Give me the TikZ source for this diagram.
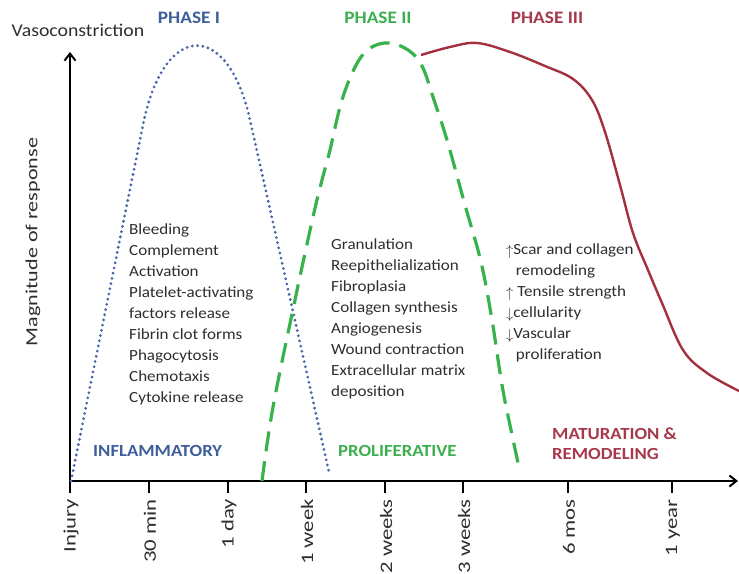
\documentclass[tikz,border=0pt]{standalone}
\usepackage{fontspec}
\setmainfont{Carlito}[FakeStretch=1.1]
\newfontfamily\vertfont{Carlito}[FakeStretch=1.3]
\usetikzlibrary{arrows.meta}
\definecolor{phblue}{HTML}{3E5E9C}
\definecolor{dotblue}{HTML}{4866A8}
\definecolor{phgreen}{HTML}{3CAF4E}
\definecolor{dashgreen}{HTML}{38B24A}
\definecolor{phred}{HTML}{A8384B}
\definecolor{linered}{HTML}{A3303F}
\definecolor{txt}{HTML}{2E2E2E}
\newcommand{\upa}{\raisebox{-0.5pt}{$\uparrow$}}
\newcommand{\dna}{\raisebox{-0.5pt}{$\downarrow$}}
\tikzset{
  axisline/.style={line width=2.2pt, black},
  axisarrow/.style={-{Straight Barb[length=7pt,width=11pt,line width=2pt]}},
  ticklab/.style={rotate=90, anchor=east, inner sep=0pt, text=txt, font=\vertfont\fontsize{17.5}{17.5}\selectfont},
  phasehead/.style={inner sep=0pt, font=\bfseries\fontsize{17.5}{20}\selectfont},
  region/.style={inner sep=0pt, anchor=west, font=\bfseries\fontsize{17}{20}\selectfont},
  listtext/.style={inner sep=0pt, anchor=north west, align=left, text=txt, font=\fontsize{15.5}{21}\selectfont},
  phaseone/.style={dotblue, line width=3.1pt, line cap=round, dash pattern=on 0pt off 5.3pt},
  phasetwo/.style={dashgreen, line width=3.2pt, dash pattern=on 20pt off 10pt},
  phasethree/.style={linered, line width=2.4pt},
}
\begin{document}
\begin{tikzpicture}[x=1pt,y=-1pt]
\useasboundingbox (0,0) rectangle (739,573);
% axes
\coordinate (O) at (70,481);
\coordinate (ybot) at (70,493);
\coordinate (ytop) at (70,52);
\coordinate (xend) at (738,481);
\draw[axisline] (ybot) -- (O);
\draw[axisline, axisarrow] (O) -- (ytop);
\draw[axisline, axisarrow] (O) -- (xend);
% ticks
\foreach \n/\x/\l in {a/70/Injury, b/149/30 min, c/228/1 day, d/306/1 week, e/385/2 weeks, f/463/3 weeks, g/568/6 mos, h/672/1 year}{
  \coordinate (tk\n) at (\x,481);
  \coordinate (tb\n) at (\x,493);
  \draw[axisline] (tk\n) -- (tb\n);
  \node[ticklab] (lab\n) at (\x+1,499) {\l};
}
% axis labels
\node[text=txt, inner sep=0pt, font=\fontsize{18}{20}\selectfont] (vaso) at (78,30) {Vasoconstriction};
\node[rotate=90, text=txt, inner sep=0pt, font=\vertfont\fontsize{17}{17}\selectfont] (mag) at (33,242) {Magnitude of response};
% phase headings
\node[phasehead, text=phblue] (p1) at (189,18) {PHASE I};
\node[phasehead, text=phgreen] (p2) at (378,18) {PHASE II};
\node[phasehead, text=phred] (p3) at (547,18) {PHASE III};
% curves
\coordinate (b0) at (71,481);
\coordinate (b1) at (143,125);
\coordinate (b1c) at (164,20);
\coordinate (b2c) at (228,20);
\coordinate (b2) at (250,120);
\coordinate (b3) at (329,472);
\draw[phaseone] (b0) -- (b1) .. controls (b1c) and (b2c) .. (b2) -- (b3);
\draw[phasetwo] plot[smooth, tension=0.6] coordinates {(262,481) (273,407) (295,300) (313,217) (322,180) (330,150) (340,107) (350,78) (361,57) (372,47) (385,43) (398,45) (412,53) (423,68) (433,97) (447,140) (465,205) (481,262) (492,320) (502,385) (511,430) (520,472)};
\draw[phasethree] plot[smooth, tension=0.6] coordinates {(421,55) (450,47) (477,43) (510,52) (545,66) (573,79) (592,100) (605,132) (620,185) (633,233) (648,270) (662,303) (683,350) (707,373) (739,391)};
% lists
\node[listtext] (l1) at (129,224) {Bleeding\\Complement\\Activation\\Platelet-activating\\factors release\\Fibrin clot forms\\Phagocytosis\\Chemotaxis\\Cytokine release};
\node[listtext] (l2) at (331,239) {Granulation\\Reepithelialization\\Fibroplasia\\Collagen synthesis\\Angiogenesis\\Wound contraction\\Extracellular matrix\\deposition};
\node[listtext] (l3) at (506,244) {\upa Scar and collagen\\\phantom{\upa}\,remodeling\\\upa\ Tensile strength\\\dna cellularity\\\dna Vascular\\\phantom{\upa}\,proliferation};
% region labels
\node[region, text=phblue] (r1) at (93,451) {INFLAMMATORY};
\node[region, text=phgreen] (r2) at (338,451) {PROLIFERATIVE};
\node[region, text=phred, align=left, anchor=north west] (r3) at (552,428) {MATURATION \&\\REMODELING};
\end{tikzpicture}
\end{document}
